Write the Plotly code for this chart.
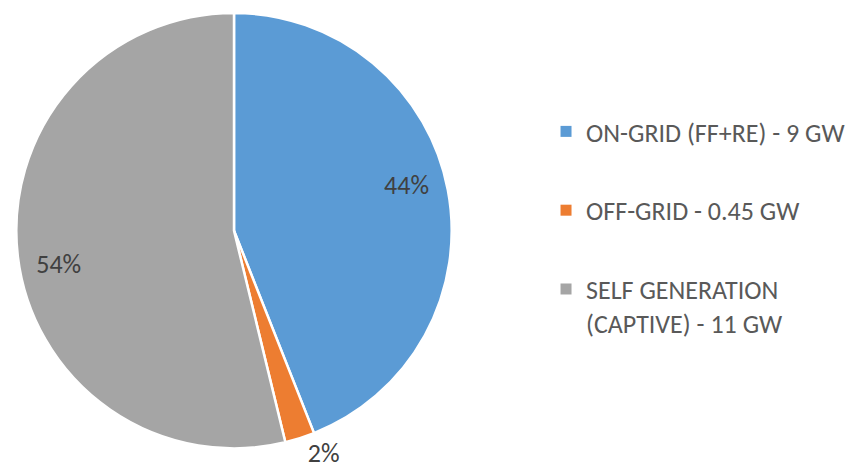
import plotly.graph_objects as go

labels = ["ON-GRID (FF+RE) - 9 GW", "OFF-GRID - 0.45 GW", "SELF GENERATION<br>(CAPTIVE) - 11 GW"]
values = [9, 0.45, 11]
colors = ["#5B9BD5", "#ED7D31", "#A5A5A5"]

W, H = 854, 475
PAGE_OFFSET = 8  # default body margin of the html page
cx, cy, r = 234 - PAGE_OFFSET, 228 - PAGE_OFFSET, 220
dom_x = [(cx - r) / W, (cx + r) / W]
dom_y = [(H - cy - r) / H, (H - cy + r) / H]

FONT = "Carlito, Calibri, Lato, sans-serif"
LBL = dict(family=FONT, size=26, color="#404040")

fig = go.Figure()
# main pie (slices + outside label for the small slice)
fig.add_trace(go.Pie(
    labels=labels, values=values, sort=False, direction="clockwise", rotation=0,
    marker=dict(colors=colors, line=dict(color="white", width=2.5)),
    texttemplate=["", "%{percent:.0%}", ""],
    textposition=["none", "outside", "none"],
    textfont=LBL,
    domain=dict(x=dom_x, y=dom_y), showlegend=False,
    hoverinfo="label+value+percent",
))
# transparent ring carrying the inside labels (Excel-like placement near the rim)
fig.add_trace(go.Pie(
    labels=labels, values=values, sort=False, direction="clockwise", rotation=-4,
    hole=0.64,
    marker=dict(colors=["rgba(0,0,0,0)"] * 3, line=dict(width=0)),
    texttemplate=["%{percent:.0%}", "", "%{percent:.0%}"],
    textposition=["inside", "none", "inside"],
    insidetextorientation="horizontal",
    textfont=LBL,
    domain=dict(x=dom_x, y=dom_y), showlegend=False, hoverinfo="skip",
))
# legend entries
for i, (lab, col) in enumerate(zip(labels, colors)):
    fig.add_trace(go.Scatter(
        x=[None], y=[None], mode="markers", name=lab, legendgroup=str(i),
        marker=dict(symbol="square", size=11, color=col), hoverinfo="skip",
    ))

fig.update_layout(
    width=W, height=H, margin=dict(l=0, r=0, t=0, b=0),
    paper_bgcolor="white", plot_bgcolor="white",
    font=dict(family=FONT, color="#595959"),
    xaxis=dict(visible=False), yaxis=dict(visible=False),
    legend=dict(x=0.63, y=1 - 96 / H, xanchor="left", yanchor="top",
                font=dict(family=FONT, size=26, color="#595959"),
                valign="top", itemwidth=30, traceorder="grouped",
                tracegroupgap=42, itemsizing="trace"),
)

fig.write_html("out.html")
